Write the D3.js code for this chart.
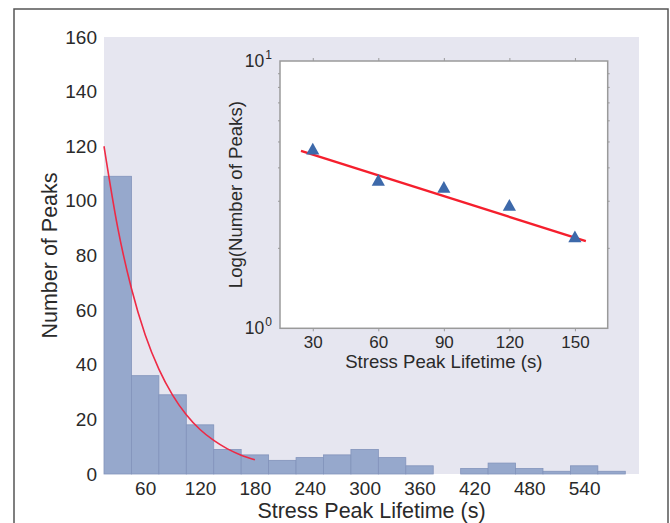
<!DOCTYPE html>
<html>
<head>
<meta charset="utf-8">
<script src="https://cdn.jsdelivr.net/npm/d3@7"></script>
<style>
  body { margin: 0; background: #fff; }
  svg { display: block; font-family: "Liberation Sans", Arial, sans-serif; }
</style>
</head>
<body>
<svg id="chart" width="670" height="523"></svg>
<script>
// histogram: bin centres (s) and counts
const binCenters = [30, 60, 90, 120, 150, 180, 210, 240, 270, 300, 330, 360, 390, 420, 450, 480, 510, 540, 570];
const peakCounts = [109, 36, 29, 18, 9, 7, 5, 6, 7, 9, 6, 3, 0, 2, 4, 2, 1, 3, 1];
const binWidth = 30;

// exponential fit drawn over the histogram
const fitTimes = [15, 30, 45, 60, 75, 90, 105, 120, 135, 150, 165, 180];
const fitCounts = [120, 90.2, 67.9, 51.0, 38.4, 28.9, 21.7, 16.3, 12.3, 9.2, 6.9, 5.2];

// main axis ticks
const mainXTicks = [60, 120, 180, 240, 300, 360, 420, 480, 540];
const mainYTicks = [0, 20, 40, 60, 80, 100, 120, 140, 160];

// inset: log(number of peaks) and the straight fit
const insetTimes = [30, 60, 90, 120, 150];
const insetValues = [4.69, 3.58, 3.37, 2.89, 2.20];
const insetFitTimes = [24.6, 155];
const insetFitValues = [4.61, 2.12];
const insetXTicks = [30, 60, 90, 120, 150];
const insetYMajor = [1, 10];
const insetYMinor = [2, 3, 4, 5, 6, 7, 8, 9];

const svg = d3.select("#chart");
const textColor = "#2a2a2a";

// outer figure frame
svg.append("path")
    .attr("d", "M14,523V9H668V523")
    .attr("fill", "none")
    .attr("stroke", "#555")
    .attr("stroke-width", 1.5);

// ---- main histogram ----
const x = d3.scaleLinear().domain([15, 600]).range([104, 639]);
const y = d3.scaleLinear().domain([0, 160]).range([474, 37]);

svg.append("rect")
    .attr("x", x(15))
    .attr("y", y(160))
    .attr("width", x(600) - x(15))
    .attr("height", y(0) - y(160))
    .attr("fill", "#e6e6f0");

svg.append("g")
    .selectAll("rect")
    .data(binCenters.map((c, i) => ({ c: c, v: peakCounts[i] })).filter(d => d.v > 0))
    .enter()
    .append("rect")
    .attr("x", d => x(d.c - binWidth / 2))
    .attr("y", d => y(d.v))
    .attr("width", d => x(d.c + binWidth / 2) - x(d.c - binWidth / 2))
    .attr("height", d => y(0) - y(d.v))
    .attr("fill", "#96a8cc")
    .attr("stroke", "#8293bb")
    .attr("stroke-width", 0.8);

svg.append("path")
    .datum(fitTimes.map((t, i) => [t, fitCounts[i]]))
    .attr("fill", "none")
    .attr("stroke", "#ee2a45")
    .attr("stroke-width", 1.6)
    .attr("d", d3.line().x(d => x(d[0])).y(d => y(d[1])).curve(d3.curveMonotoneX));

const xAxis = svg.append("g")
    .attr("transform", `translate(0,${y(0)})`)
    .call(d3.axisBottom(x).tickValues(mainXTicks).tickSize(0).tickPadding(7.5));
const yAxis = svg.append("g")
    .attr("transform", `translate(${x(15)},0)`)
    .call(d3.axisLeft(y).tickValues(mainYTicks).tickSize(0).tickPadding(7));
[xAxis, yAxis].forEach(a => {
    a.select(".domain").remove();
    a.selectAll("text")
        .attr("font-size", 19)
        .attr("font-family", "Liberation Sans, Arial, sans-serif")
        .attr("fill", textColor);
});

svg.append("text")
    .attr("x", (x(15) + x(600)) / 2)
    .attr("y", 518)
    .attr("text-anchor", "middle")
    .attr("font-size", 21.5)
    .attr("fill", textColor)
    .text("Stress Peak Lifetime (s)");

svg.append("text")
    .attr("transform", `translate(57,${(y(0) + y(160)) / 2}) rotate(-90)`)
    .attr("text-anchor", "middle")
    .attr("font-size", 21.5)
    .attr("fill", textColor)
    .text("Number of Peaks");

// ---- inset ----
const ix = d3.scaleLinear().domain([15, 165]).range([280, 607.7]);
const iy = d3.scaleLog().domain([1, 10]).range([328.3, 61]);
const frameColor = "#9a9a9a";

svg.append("rect")
    .attr("x", ix(15))
    .attr("y", iy(10))
    .attr("width", ix(165) - ix(15))
    .attr("height", iy(1) - iy(10))
    .attr("fill", "#fff");

const styleTicks = (g) => {
    g.select(".domain").remove();
    g.selectAll(".tick line").attr("stroke", frameColor).attr("stroke-width", 1);
};

const ixBottom = svg.append("g")
    .attr("transform", `translate(0,${iy(1)})`)
    .call(d3.axisBottom(ix).tickValues(insetXTicks).tickSize(3).tickPadding(4.5));
styleTicks(ixBottom);
ixBottom.selectAll("text")
    .attr("font-size", 17)
    .attr("font-family", "Liberation Sans, Arial, sans-serif")
    .attr("fill", textColor);

svg.append("g")
    .attr("transform", `translate(0,${iy(10)})`)
    .call(d3.axisTop(ix).tickValues(insetXTicks).tickSize(3).tickFormat(""))
    .call(styleTicks);

// minor log ticks on left and right
svg.append("g")
    .attr("transform", `translate(${ix(15)},0)`)
    .call(d3.axisLeft(iy).tickValues(insetYMinor).tickSize(2).tickFormat(""))
    .call(styleTicks);
svg.append("g")
    .attr("transform", `translate(${ix(165)},0)`)
    .call(d3.axisRight(iy).tickValues(insetYMinor).tickSize(2).tickFormat(""))
    .call(styleTicks);

svg.append("rect")
    .attr("x", ix(15))
    .attr("y", iy(10))
    .attr("width", ix(165) - ix(15))
    .attr("height", iy(1) - iy(10))
    .attr("fill", "none")
    .attr("stroke", frameColor)
    .attr("stroke-width", 1.5);

// 10^0 and 10^1 labels
const powLabels = svg.append("g")
    .selectAll("text")
    .data(insetYMajor)
    .enter()
    .append("text")
    .attr("x", ix(15) - 8)
    .attr("y", d => iy(d))
    .attr("dy", "0.35em")
    .attr("text-anchor", "end")
    .attr("font-size", 17.5)
    .attr("fill", textColor);
powLabels.append("tspan").text("10");
powLabels.append("tspan")
    .attr("font-size", 12)
    .attr("dy", "-0.7em")
    .attr("dx", "1")
    .text(d => Math.round(Math.log10(d)));

svg.append("path")
    .datum(insetFitTimes.map((t, i) => [t, insetFitValues[i]]))
    .attr("fill", "none")
    .attr("stroke", "#f51f2d")
    .attr("stroke-width", 2.4)
    .attr("d", d3.line().x(d => ix(d[0])).y(d => iy(d[1])));

svg.append("g")
    .selectAll("path")
    .data(insetTimes.map((t, i) => [t, insetValues[i]]))
    .enter()
    .append("path")
    .attr("transform", d => `translate(${ix(d[0])},${iy(d[1])})`)
    .attr("d", "M0,-6.2L6.6,5.6L-6.6,5.6Z")
    .attr("fill", "#3d69aa");

svg.append("text")
    .attr("x", (ix(15) + ix(165)) / 2)
    .attr("y", 367.7)
    .attr("text-anchor", "middle")
    .attr("font-size", 18.6)
    .attr("fill", textColor)
    .text("Stress Peak Lifetime (s)");

svg.append("text")
    .attr("transform", `translate(242,${(iy(1) + iy(10)) / 2}) rotate(-90)`)
    .attr("text-anchor", "middle")
    .attr("font-size", 18.6)
    .attr("fill", textColor)
    .text("Log(Number of Peaks)");
</script>
</body>
</html>
